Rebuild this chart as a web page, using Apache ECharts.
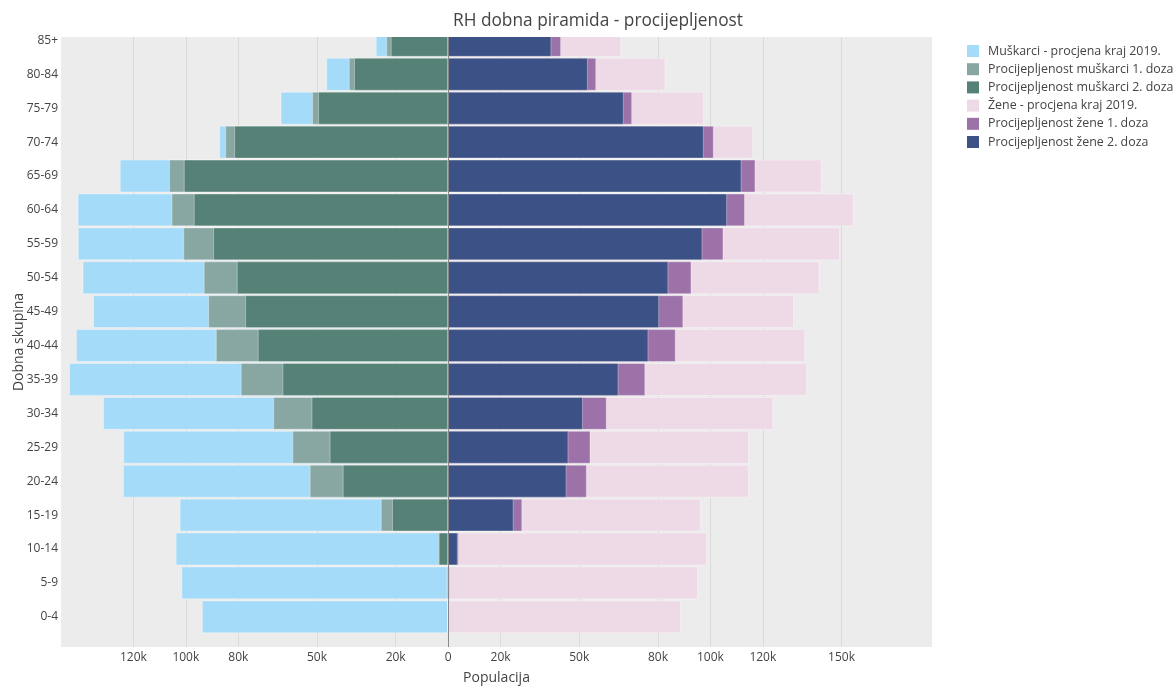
<!DOCTYPE html>
<html>
<head>
<meta charset="utf-8">
<script src="https://cdn.jsdelivr.net/npm/echarts@6/dist/echarts.min.js"></script>
<style>html,body{margin:0;padding:0;background:#fff}#c{width:1176px;height:686px}</style>
</head>
<body>
<div id="c"></div>
<script>
// categories from bottom (index 0) to top
const categories = ['0-4','5-9','10-14','15-19','20-24','25-29','30-34','35-39','40-44','45-49','50-54','55-59','60-64','65-69','70-74','75-79','80-84','85+'];
// men (plotted to the left), thousands
const menTotal = [93.7,101.5,103.7,102.2,123.8,123.7,131.4,144.3,141.7,135.2,139.2,141.0,141.1,125.0,87.1,63.7,46.3,27.4];
const menDose1 = [0,0.4,3.7,25.5,52.6,59.2,66.5,78.9,88.4,91.3,93.0,100.8,105.3,106.2,84.8,51.7,37.7,23.4];
const menDose2 = [0,0.3,3.4,21.2,40.0,45.0,51.9,63.0,72.4,77.2,80.4,89.4,96.8,100.6,81.4,49.4,35.7,21.7];
// women (plotted to the right), thousands
const womenTotal = [88.6,95.1,98.5,96.1,114.5,114.5,123.8,136.6,136.0,131.7,141.4,149.2,154.4,142.2,116.1,97.3,82.7,65.8];
const womenDose1 = [0,0.5,3.9,28.1,52.7,54.1,60.3,75.0,86.6,89.5,92.6,104.8,113.0,117.0,101.1,70.0,56.3,42.9];
const womenDose2 = [0,0.3,3.5,24.8,45.0,45.7,51.2,64.8,76.2,80.3,83.8,96.8,106.2,111.7,97.3,66.8,53.1,39.2];
const xTicks = [-120000,-100000,-80000,-50000,-20000,0,20000,50000,80000,100000,120000,150000];
const yTicks = [0,1,2,3,4,5,6,7,8,9,10,11,12,13,14,15,16,17];

const FONT = 'Open Sans';
function toData(arr, sign){ return arr.map((v,i)=>[i, sign*v*1000]); }
function renderBar(params, api){
  const idx = api.value(0), v = api.value(1);
  const p0 = api.coord([0, idx]), p1 = api.coord([v, idx]);
  const h = api.size([0,1])[1]*0.94;
  return {type:'rect', shape:{x:Math.min(p0[0],p1[0]), y:p0[1]-h/2, width:Math.abs(p1[0]-p0[0]), height:h},
    style: Object.assign(api.style(), {stroke:'rgba(255,255,255,0.35)', lineWidth:1})};
}
function mk(name, arr, sign, color, extra){
  return Object.assign({name, type:'custom', renderItem:renderBar, clip:true, encode:{x:1,y:0},
    itemStyle:{color}, data:toData(arr, sign)}, extra||{});
}
const chart = echarts.init(document.getElementById('c'));
chart.setOption({
  animation:false,
  backgroundColor:'#fff',
  textStyle:{fontFamily:FONT},
  title:{text:'RH dobna piramida - procijepljenost', left:448, top:8,
    textStyle:{fontFamily:FONT, fontSize:17.3, fontWeight:'normal', color:'#444'}},
  legend:{orient:'vertical', left:962, top:40, itemWidth:12, itemHeight:12, itemGap:6.2, icon:'rect',
    textStyle:{fontFamily:FONT, fontSize:12.4, color:'#444', padding:[0,0,0,4]},
    data:['Muškarci - procjena kraj 2019.','Procijepljenost muškarci 1. doza','Procijepljenost muškarci 2. doza','Žene - procjena kraj 2019.','Procijepljenost žene 1. doza','Procijepljenost žene 2. doza']},
  grid:{left:61, right:244, top:37, bottom:39, outerBoundsMode:'none', containLabel:false,
    show:true, backgroundColor:'#ececec', borderWidth:0},
  xAxis:{type:'value', min:-147600, max:184500,
    name:'Populacija', nameLocation:'middle', nameGap:24, nameMoveOverlap:false,
    nameTextStyle:{fontFamily:FONT, fontSize:14, color:'#444'},
    axisLine:{show:false}, axisTick:{show:false, customValues:xTicks},
    axisLabel:{customValues:xTicks, fontFamily:FONT, fontSize:12, color:'#444', margin:5,
      formatter:v=> v===0 ? '0' : Math.abs(v/1000)+'k'},
    splitLine:{show:true, lineStyle:{color:'#dadada', width:1}}},
  yAxis:{type:'value', min:-0.89, max:17.1,
    name:'Dobna skupina', nameLocation:'middle', nameGap:35, nameRotate:90, nameMoveOverlap:false,
    nameTextStyle:{fontFamily:FONT, fontSize:14, color:'#444'},
    axisLine:{show:false}, axisTick:{show:false, customValues:yTicks}, splitLine:{show:false},
    axisLabel:{customValues:yTicks, fontFamily:FONT, fontSize:12, color:'#444', margin:3,
      formatter:v=>categories[Math.round(v)]}},
  series:[
    mk('Muškarci - procjena kraj 2019.', menTotal, -1, '#a4dbf8'),
    mk('Procijepljenost muškarci 1. doza', menDose1, -1, '#88a7a2'),
    mk('Procijepljenost muškarci 2. doza', menDose2, -1, '#568176'),
    mk('Žene - procjena kraj 2019.', womenTotal, 1, '#eed9e6'),
    mk('Procijepljenost žene 1. doza', womenDose1, 1, '#9c72a8'),
    mk('Procijepljenost žene 2. doza', womenDose2, 1, '#3c5185', {
      markLine:{silent:true, symbol:'none', label:{show:false}, lineStyle:{color:'#888', width:1, type:'solid'},
        data:[{xAxis:0}]}})
  ]
});
</script>
</body>
</html>
